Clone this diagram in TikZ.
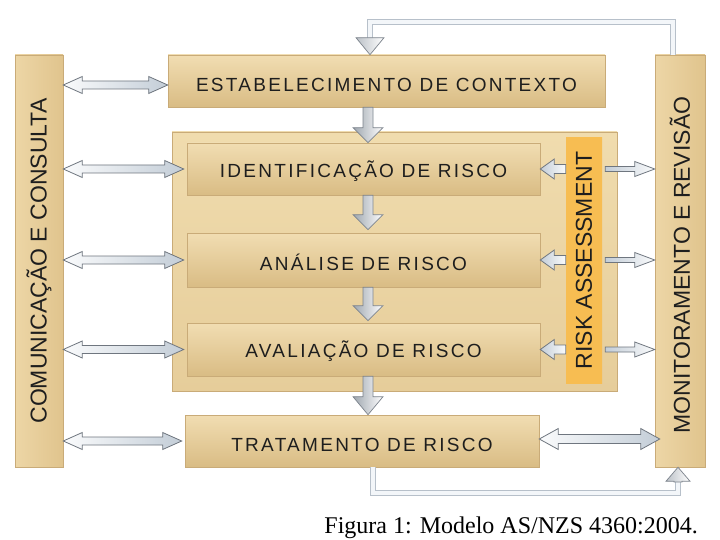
\documentclass[tikz,border=0pt]{standalone}
\usepackage{fontspec}
\setmainfont{Liberation Serif}
\newfontfamily\boxfont[LetterSpace=12]{Liberation Sans}
\newfontfamily\barfont{Liberation Sans}
\usetikzlibrary{calc}
\definecolor{boxT}{HTML}{F1DDB2}
\definecolor{boxM}{HTML}{F6E9CC}
\definecolor{boxB}{HTML}{D9BC84}
\definecolor{boxEdge}{HTML}{C9AB78}
\definecolor{contT}{HTML}{F0DCAE}
\definecolor{contM}{HTML}{F7EBD2}
\definecolor{contB}{HTML}{E6CD9A}
\definecolor{barL}{HTML}{EDD6A6}
\definecolor{barM}{HTML}{F4E4C2}
\definecolor{barR}{HTML}{E0C48D}
\definecolor{raL}{HTML}{F7BD52}
\definecolor{raM}{HTML}{FAD07C}
\definecolor{txt}{HTML}{1E1E1E}
\definecolor{arrEdge}{HTML}{6F767F}
\definecolor{arrFillA}{HTML}{FAFBFC}
\definecolor{arrFillB}{HTML}{C3CDD7}
\definecolor{blkDark}{HTML}{9EA6AF}
\definecolor{blkEdge}{HTML}{7D848D}
\definecolor{fbEdge}{HTML}{B7C0CA}
\definecolor{fbIn}{HTML}{F3F6F9}
\begin{document}
\begin{tikzpicture}[x=1pt,y=-1pt,
  boxst/.style={draw=boxEdge, line width=0.6pt, top color=boxT, middle color=boxM, bottom color=boxB,
    inner sep=0pt, text height=21pt, font={\boxfont\fontsize{19pt}{19pt}\selectfont}, text=txt},
  contst/.style={draw=boxEdge, line width=0.8pt, top color=contT, middle color=contM, bottom color=contB, inner sep=0pt},
  barst/.style={draw=boxEdge, line width=0.5pt, left color=barL, middle color=barM, right color=barR,
    inner sep=0pt},
  bartext/.style={font={\barfont\fontsize{23pt}{23pt}\selectfont}, text=txt, rotate=90, inner sep=0pt},
  rast/.style={draw=none, left color=raL, middle color=raM, right color=raL, inner sep=0pt},
  hollow/.style={draw=arrEdge, line width=0.8pt, left color=arrFillA, right color=arrFillB},
  hollowr/.style={draw=arrEdge, line width=0.8pt, left color=arrFillB, right color=arrFillA},
  blockst/.style={draw=blkEdge, line width=0.7pt, left color=blkDark, right color=white},
  fbline/.style={draw=fbEdge, line width=1.4pt, double=fbIn, double distance=3.4pt, line join=miter},
  fbhead/.style={draw=blkEdge, line width=0.7pt, left color=blkDark!70, right color=white},
  dbl/.style n args={3}{to path={let \p1=(\tikztostart),\p2=(\tikztotarget) in
    (\x1,\y1) -- (\x1+#3,\y1+#2) -- (\x1+#3,\y1+#1) -- (\x2-#3,\y1+#1) -- (\x2-#3,\y1+#2)
    -- (\x2,\y1) -- (\x2-#3,\y1-#2) -- (\x2-#3,\y1-#1) -- (\x1+#3,\y1-#1) -- (\x1+#3,\y1-#2) -- cycle}},
  sR/.style n args={3}{to path={let \p1=(\tikztostart),\p2=(\tikztotarget) in
    (\x1,\y1-#1) -- (\x2-#3,\y1-#1) -- (\x2-#3,\y1-#2) -- (\x2,\y1) -- (\x2-#3,\y1+#2)
    -- (\x2-#3,\y1+#1) -- (\x1,\y1+#1) -- cycle}},
  sL/.style n args={3}{to path={let \p1=(\tikztostart),\p2=(\tikztotarget) in
    (\x1,\y1-#1) -- (\x2+#3,\y1-#1) -- (\x2+#3,\y1-#2) -- (\x2,\y1) -- (\x2+#3,\y1+#2)
    -- (\x2+#3,\y1+#1) -- (\x1,\y1+#1) -- cycle}},
  sD/.style n args={3}{to path={let \p1=(\tikztostart),\p2=(\tikztotarget) in
    (\x1-#1,\y1) -- (\x1-#1,\y2+#3) -- (\x1-#2,\y2+#3) -- (\x1,\y2) -- (\x1+#2,\y2+#3)
    -- (\x1+#1,\y2+#3) -- (\x1+#1,\y1) -- cycle}},
  sU/.style n args={3}{to path={let \p1=(\tikztostart),\p2=(\tikztotarget) in
    (\x1-#1,\y1) -- (\x1-#1,\y2-#3) -- (\x1-#2,\y2-#3) -- (\x1,\y2) -- (\x1+#2,\y2-#3)
    -- (\x1+#1,\y2-#3) -- (\x1+#1,\y1) -- cycle}}
]
\useasboundingbox (0,0) rectangle (720,540);
\fill[white] (0,0) rectangle (720,540);

% side bars
\node[barst, minimum width=48pt, minimum height=412pt] (com) at (39,261) {};
\node[bartext] (comt) at (com.center) {COMUNICAÇÃO E CONSULTA};
\node[barst, minimum width=50pt, minimum height=412pt] (mon) at (680,261) {};
\node[bartext] (mont) at ([yshift=-4pt]mon.center) {MONITORAMENTO E REVISÃO};

% main boxes
\node[boxst, minimum width=437pt, minimum height=52pt] (est) at (386.5,81) {ESTABELECIMENTO DE CONTEXTO};
\node[contst, minimum width=445pt, minimum height=259pt] (cont) at (394.5,261.5) {};
\node[boxst, minimum width=353pt, minimum height=52pt] (ident) at (363.5,169) {IDENTIFICAÇÃO DE RISCO};
\node[boxst, minimum width=353pt, minimum height=54pt] (anal) at (363.5,260) {ANÁLISE DE RISCO};
\node[boxst, minimum width=353pt, minimum height=53pt] (aval) at (363.5,349.5) {AVALIAÇÃO DE RISCO};
\node[boxst, minimum width=354pt, minimum height=52pt] (trat) at (362,441) {TRATAMENTO DE RISCO};
\node[rast, minimum width=36pt, minimum height=245pt] (ra) at (584,260.5) {};
\node[bartext] (rat) at (ra.center) {RISK ASSESSMENT};

% vertical block arrows
\coordinate (ax) at (368,0);
\path[blockst] (est.south -| ax) to[sD={5pt}{15pt}{15pt}] (ident.north -| ax);
\path[blockst] (ident.south -| ax) to[sD={5pt}{15pt}{15pt}] ([yshift=3pt]anal.north -| ax);
\path[blockst] (anal.south -| ax) to[sD={5pt}{15pt}{15pt}] ([yshift=2pt]aval.north -| ax);
\path[blockst] (aval.south -| ax) to[sD={5pt}{15pt}{18pt}] (trat.north -| ax);

% left double arrows
\path[hollow] ([yshift=-4pt]com.east |- est) to[dbl={4pt}{8.5pt}{19pt}] ([yshift=-4pt]est.west);
\path[hollow] (com.east |- ident) to[dbl={4pt}{8.5pt}{19pt}] ([xshift=-3pt]ident.west);
\path[hollow] (com.east |- anal) to[dbl={4pt}{8.5pt}{19pt}] ([xshift=-3pt]anal.west);
\path[hollow] (com.east |- aval) to[dbl={4pt}{8.5pt}{19pt}] ([xshift=-3pt]aval.west);
\path[hollow] (com.east |- trat) to[dbl={4pt}{8.5pt}{19pt}] ([xshift=-3pt]trat.west);

% risk assessment arrows into boxes
\path[hollowr] (ra.west |- ident) to[sL={4.5pt}{10pt}{14pt}] (ident.east);
\path[hollowr] (ra.west |- anal) to[sL={4.5pt}{10pt}{14pt}] (anal.east);
\path[hollowr] (ra.west |- aval) to[sL={4.5pt}{10pt}{14pt}] (aval.east);

% risk assessment arrows to monitoring
\path[hollowr] ([xshift=3pt]ra.east |- ident) to[sR={2.5pt}{7.5pt}{20pt}] (mon.west |- ident);
\path[hollowr] ([xshift=3pt]ra.east |- anal) to[sR={2.5pt}{7.5pt}{20pt}] (mon.west |- anal);
\path[hollowr] ([xshift=3pt]ra.east |- aval) to[sR={2.5pt}{7.5pt}{20pt}] (mon.west |- aval);

% tratamento <-> monitoramento
\path[hollow] ([yshift=2pt]trat.east) to[dbl={4.5pt}{10.5pt}{19pt}] ([xshift=5pt,yshift=2pt]mon.west |- trat);

% feedback top
\coordinate (fbA) at (673,22);
\coordinate (fbB) at (370,22);
\coordinate (fbC) at (370,38);
\draw[fbline] (mon.north -| fbA) -- (fbA) -- (fbB) -- (fbC);
\path[fbhead] (fbC) to[sD={0pt}{14pt}{17pt}] (est.north -| fbC);

% feedback bottom
\coordinate (fbD) at (373,493);
\coordinate (fbE) at (678,493);
\coordinate (fbF) at (678,482);
\draw[fbline] (trat.south -| fbD) -- (fbD) -- (fbE) -- (fbF);
\path[fbhead] (fbF) to[sU={4pt}{12pt}{14pt}] (mon.south -| fbF);

% caption
\node[anchor=base east, inner sep=0pt, font={\fontsize{24pt}{24pt}\selectfont}] (cap) at (698,533) {Figura 1: Modelo AS/NZS 4360:2004.};
\end{tikzpicture}
\end{document}
